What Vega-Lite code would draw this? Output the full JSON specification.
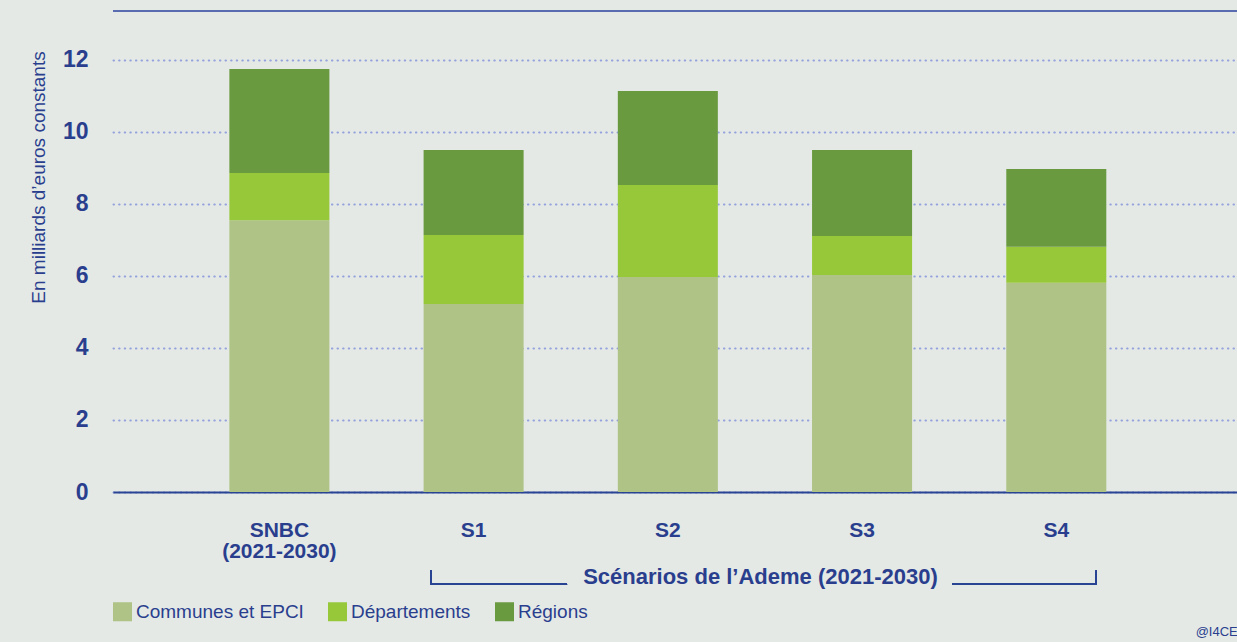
{
  "$schema": "https://vega.github.io/schema/vega-lite/v6.json",
  "autosize": "none",
  "width": 1124,
  "height": 481,
  "padding": {"left": 113, "top": 11, "right": 0, "bottom": 150},
  "background": "#e4e9e6",
  "config": {
    "view": {"stroke": null},
    "font": "Liberation Sans",
    "text": {"font": "Liberation Sans"}
  },
  "title": {
    "text": "@I4CE",
    "orient": "bottom",
    "anchor": "end",
    "fontSize": 13,
    "fontWeight": "normal",
    "color": "#2a3e8e",
    "font": "Liberation Sans",
    "offset": 4
  },
  "data": {
    "values": [
      {"scenario": "SNBC", "niveau": "Communes et EPCI", "valeur": 7.55},
      {"scenario": "SNBC", "niveau": "Départements", "valeur": 1.31},
      {"scenario": "SNBC", "niveau": "Régions", "valeur": 2.89},
      {"scenario": "S1", "niveau": "Communes et EPCI", "valeur": 5.22},
      {"scenario": "S1", "niveau": "Départements", "valeur": 1.92},
      {"scenario": "S1", "niveau": "Régions", "valeur": 2.36},
      {"scenario": "S2", "niveau": "Communes et EPCI", "valeur": 5.97},
      {"scenario": "S2", "niveau": "Départements", "valeur": 2.56},
      {"scenario": "S2", "niveau": "Régions", "valeur": 2.61},
      {"scenario": "S3", "niveau": "Communes et EPCI", "valeur": 6.03},
      {"scenario": "S3", "niveau": "Départements", "valeur": 1.08},
      {"scenario": "S3", "niveau": "Régions", "valeur": 2.39},
      {"scenario": "S4", "niveau": "Communes et EPCI", "valeur": 5.81},
      {"scenario": "S4", "niveau": "Départements", "valeur": 1.0},
      {"scenario": "S4", "niveau": "Régions", "valeur": 2.16}
    ]
  },
  "layer": [
    {
      "mark": {"type": "bar"},
      "encoding": {
        "x": {
          "field": "scenario",
          "type": "nominal",
          "sort": ["SNBC", "S1", "S2", "S3", "S4"],
          "scale": {"paddingInner": 0.485, "paddingOuter": 0.636, "align": 0.471},
          "axis": {
            "title": "Scénarios de l’Ademe (2021-2030)",
            "titleFont": "Liberation Sans",
            "titleFontSize": 22,
            "titleFontWeight": "bold",
            "titleColor": "#2a3e8e",
            "titleX": 647,
            "titleY": 84,
            "titleBaseline": "middle",
            "titleAlign": "center",
            "labelAngle": 0,
            "labelFont": "Liberation Sans",
            "labelFontSize": 21,
            "labelFontWeight": "bold",
            "labelColor": "#2a3e8e",
            "labelPadding": 27,
            "labelLineHeight": 21,
            "labelBaseline": "top",
            "labelExpr": "datum.value == 'SNBC' ? ['SNBC', '(2021-2030)'] : datum.value",
            "ticks": false,
            "domainColor": "#2a4494",
            "domainWidth": 2,
            "grid": false
          }
        },
        "y": {
          "field": "valeur",
          "type": "quantitative",
          "aggregate": "sum",
          "stack": "zero",
          "scale": {"domain": [0, 13.361], "nice": false, "zero": true},
          "axis": {
            "values": [0, 2, 4, 6, 8, 10, 12],
            "title": "En milliards d’euros constants",
            "titleFont": "Liberation Sans",
            "titleFontSize": 19,
            "titleFontWeight": "normal",
            "titleColor": "#2a3e8e",
            "titleAngle": -90,
            "titleX": -75,
            "titleY": 166,
            "titleAlign": "center",
            "titleBaseline": "middle",
            "labelFont": "Liberation Sans",
            "labelFontSize": 23,
            "labelFontWeight": "bold",
            "labelColor": "#2a3e8e",
            "labelPadding": 25,
            "ticks": false,
            "domain": false,
            "grid": true,
            "gridColor": "#93a2dc",
            "gridWidth": 2,
            "gridDash": [0.5, 5.1],
            "gridCap": "round"
          }
        },
        "color": {
          "field": "niveau",
          "type": "nominal",
          "scale": {
            "domain": ["Communes et EPCI", "Départements", "Régions"],
            "range": ["#aec385", "#97c83a", "#6a9a40"]
          },
          "legend": {
            "title": null,
            "orient": "none",
            "direction": "horizontal",
            "legendX": 0,
            "legendY": 591,
            "padding": 0,
            "symbolType": "square",
            "symbolSize": 361,
            "symbolStrokeWidth": 0,
            "symbolOpacity": 1,
            "labelFont": "Liberation Sans",
            "labelFontSize": 19,
            "labelColor": "#2a3e8e",
            "labelOffset": 4,
            "labelLimit": 400,
            "columnPadding": 24
          }
        },
        "order": {"field": "niveau", "sort": "ascending"}
      }
    },
    {
      "mark": {"type": "rule", "color": "#5a6db0", "strokeWidth": 1.5},
      "encoding": {
        "y": {"datum": 13.361, "type": "quantitative", "title": null}
      }
    },
    {
      "mark": {"type": "rule", "color": "#2a4494", "strokeWidth": 1.5},
      "encoding": {
        "x": {"datum": "S1", "type": "nominal", "bandPosition": 0.074, "title": null},
        "x2": {"datum": "S1", "bandPosition": 1.434},
        "y": {"datum": -2.56, "type": "quantitative", "title": null}
      }
    },
    {
      "mark": {"type": "rule", "color": "#2a4494", "strokeWidth": 1.5},
      "encoding": {
        "x": {"datum": "S4", "type": "nominal", "bandPosition": -0.542, "title": null},
        "x2": {"datum": "S4", "bandPosition": 0.898},
        "y": {"datum": -2.56, "type": "quantitative", "title": null}
      }
    },
    {
      "mark": {"type": "rule", "color": "#2a4494", "strokeWidth": 1.5},
      "encoding": {
        "x": {"datum": "S1", "type": "nominal", "bandPosition": 0.074, "title": null},
        "y": {"datum": -2.17, "type": "quantitative", "title": null},
        "y2": {"datum": -2.56}
      }
    },
    {
      "mark": {"type": "rule", "color": "#2a4494", "strokeWidth": 1.5},
      "encoding": {
        "x": {"datum": "S4", "type": "nominal", "bandPosition": 0.898, "title": null},
        "y": {"datum": -2.19, "type": "quantitative", "title": null},
        "y2": {"datum": -2.56}
      }
    }
  ]
}
